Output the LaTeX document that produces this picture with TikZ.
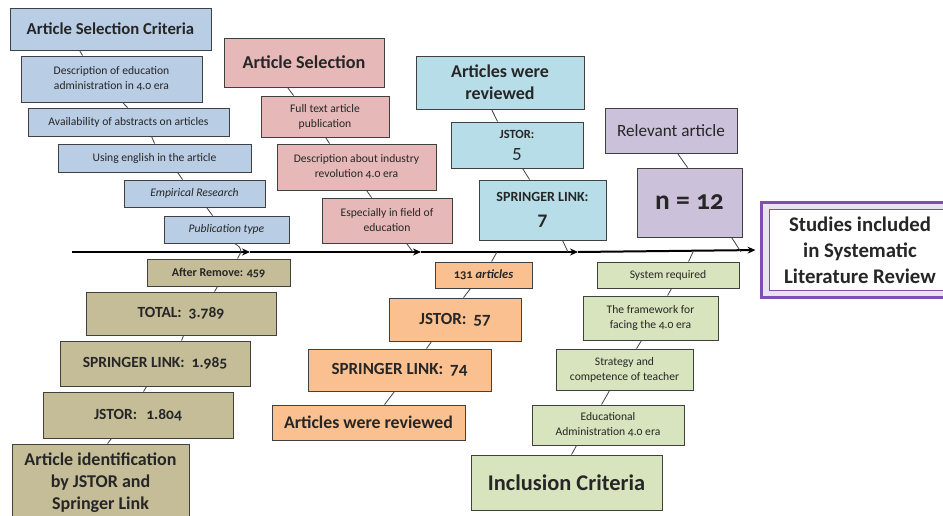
\documentclass[tikz,border=0pt]{standalone}
\usepackage{fontspec}
\setmainfont{Carlito}[Numbers=OldStyle]
\usetikzlibrary{arrows.meta}
\definecolor{cBlue}{HTML}{B9CDE5}
\definecolor{cPink}{HTML}{E6B9B8}
\definecolor{cCyan}{HTML}{B7DEE8}
\definecolor{cPurp}{HTML}{CCC1DA}
\definecolor{cTan}{HTML}{C4BD97}
\definecolor{cOrange}{HTML}{FAC090}
\definecolor{cGreen}{HTML}{D7E4BD}
\definecolor{cEdge}{HTML}{404040}
\definecolor{cText}{HTML}{262626}
\definecolor{cViolet}{HTML}{7F4FB0}
\newcommand\fz[2]{\fontsize{#1}{#2}\selectfont}
\begin{document}
\begin{tikzpicture}[x=1pt,y=-1pt,
  box/.style={draw=cEdge, line width=0.9pt, inner sep=1pt, align=center, text=cText},
  small/.style={font=\fz{11.6}{15}},
  bone/.style={draw=cEdge, line width=0.8pt},
  spine/.style={draw=black, line width=2pt, -{Stealth[length=8pt,width=7pt]}}]
\useasboundingbox (0,0) rectangle (943,516);
\clip (0,0) rectangle (943,516);
% ---------- blue ----------
\node[box, fill=cBlue, minimum width=201pt, minimum height=42pt, font=\fz{16.7}{19}\bfseries] (bt) at (110.5,29) {Article Selection Criteria};
\node[box, fill=cBlue, small, minimum width=181pt, minimum height=46pt] (b1) at (111.5,79) {Description of education\\administration in 4.0 era};
\node[box, fill=cBlue, small, minimum width=201pt, minimum height=28pt] (b2) at (128.5,122) {Availability of abstracts on articles};
\node[box, fill=cBlue, small, minimum width=193pt, minimum height=28pt] (b3) at (154.5,158) {Using english in the article};
\node[box, fill=cBlue, small, minimum width=141pt, minimum height=27pt] (b4) at (194.5,193.5) {\itshape Empirical Research};
\node[box, fill=cBlue, small, minimum width=125pt, minimum height=27pt] (b5) at (226.5,229.5) {\itshape Publication type};
% ---------- pink ----------
\node[box, fill=cPink, minimum width=160pt, minimum height=49pt, font=\fz{18.2}{21}\bfseries] (rt) at (304,62.5) {Article Selection};
\node[box, fill=cPink, small, minimum width=128pt, minimum height=41pt] (r1) at (325,116.5) {Full text article\\publication};
\node[box, fill=cPink, small, minimum width=159pt, minimum height=46pt] (r2) at (356.5,167) {Description about industry\\revolution 4.0 era};
\node[box, fill=cPink, small, minimum width=130pt, minimum height=45pt] (r3) at (387,220.5) {Especially in field of\\education};
% ---------- cyan ----------
\node[box, fill=cCyan, minimum width=168pt, minimum height=53pt, font=\fz{18}{22}\bfseries] (ct) at (500,82.5) {Articles were\\reviewed};
\node[box, fill=cCyan, minimum width=132pt, minimum height=46pt, font=\fz{12.5}{20}] (c1) at (517,145) {\bfseries JSTOR:\\{\fz{19}{20}5}};
\node[box, fill=cCyan, minimum width=127pt, minimum height=60pt, font=\fz{14}{24}\bfseries] (c2) at (542.5,210) {SPRINGER LINK:\\{\fz{19.5}{24}7}};
% ---------- purple ----------
\node[box, fill=cPurp, minimum width=132pt, minimum height=45pt, font=\fz{17.2}{19}] (pt) at (671,130.5) {Relevant article};
\node[box, fill=cPurp, minimum width=105pt, minimum height=69pt, font=\fz{27.5}{30}\bfseries] (p1) at (689.5,202.5) {n = 12};
% ---------- studies ----------
\node[draw=cViolet, line width=3pt, fill=cPurp!45, minimum width=195pt, minimum height=94pt] (studiesout) at (858.5,250) {};
\node[draw=cViolet, line width=1pt, fill=white, minimum width=181pt, minimum height=81pt, align=center, text=cText, font=\fz{20.8}{26}\bfseries] (studies) at (860,250) {Studies included\\in Systematic\\Literature Review};
% ---------- tan ----------
\node[box, fill=cTan, minimum width=143pt, minimum height=27pt, font=\fz{12}{14}\bfseries] (t1) at (218.5,272.5) {After Remove: 459};
\node[box, fill=cTan, minimum width=190pt, minimum height=43pt, font=\fz{15.5}{18}\bfseries] (t2) at (181,313.5) {TOTAL:\hspace{0.45em}3.789};
\node[box, fill=cTan, minimum width=190pt, minimum height=45pt, font=\fz{15.5}{18}\bfseries] (t3) at (155,363.5) {SPRINGER LINK:\hspace{0.45em}1.985};
\node[box, fill=cTan, minimum width=190pt, minimum height=46pt, font=\fz{15.5}{18}\bfseries] (t4) at (138,415) {JSTOR:\hspace{0.6em}1.804};
\node[box, fill=cTan, minimum width=177pt, minimum height=78pt, font=\fz{18}{22}\bfseries] (t5) at (100.5,483) {Article identification\\by JSTOR and\\Springer Link};
% ---------- orange ----------
\node[box, fill=cOrange, minimum width=97pt, minimum height=26pt, font=\fz{12.5}{14}\bfseries] (o1) at (483.5,275) {131 \textit{articles}};
\node[box, fill=cOrange, minimum width=132pt, minimum height=43pt, font=\fz{17}{19}\bfseries] (o2) at (455,319.5) {JSTOR:\hspace{0.4em}57};
\node[box, fill=cOrange, minimum width=183pt, minimum height=42pt, font=\fz{17}{19}\bfseries] (o3) at (399.5,370) {SPRINGER LINK:\hspace{0.4em}74};
\node[box, fill=cOrange, minimum width=193pt, minimum height=35pt, font=\fz{17.8}{20}\bfseries] (o4) at (368.5,422.5) {Articles were reviewed};
% ---------- green ----------
\node[box, fill=cGreen, small, minimum width=142pt, minimum height=26pt] (g1) at (668,275) {System required};
\node[box, fill=cGreen, small, minimum width=135pt, minimum height=44pt] (g2) at (650.5,318) {The framework for\\facing the 4.0 era};
\node[box, fill=cGreen, small, minimum width=137pt, minimum height=41pt] (g3) at (624.5,369.5) {Strategy and\\competence of teacher};
\node[box, fill=cGreen, small, minimum width=152pt, minimum height=40pt] (g4) at (608,425) {Educational\\Administration 4.0 era};
\node[box, fill=cGreen, minimum width=191pt, minimum height=55pt, font=\fz{22.4}{25}\bfseries] (g5) at (566.5,482.5) {Inclusion Criteria};
% ---------- spine ----------
\coordinate (s0) at (72,252);
\coordinate (a1) at (250,252);
\coordinate (a2) at (421,252);
\coordinate (a3) at (578,252);
\coordinate (j1) at (241,252);
\coordinate (j2) at (413,252);
\coordinate (j3) at (497,252);
\coordinate (j4) at (568,252);
\coordinate (j5) at (693,252);
\coordinate (j6) at (741,252);
\draw[spine] (s0) -- (a1);
\draw[spine] (a1) -- (a2);
\draw[spine] (a2) -- (a3);
\draw[spine, shorten >=4pt] (a3) -- (studiesout.west);
% ---------- bones ----------
\draw[bone] ([xshift=70pt]bt.south west) -- ([xshift=62pt]b1.north west);
\draw[bone] ([xshift=102pt]b1.south west) -- ([xshift=100pt]b2.north west);
\draw[bone] ([xshift=124pt]b2.south west) -- ([xshift=97pt]b3.north west);
\draw[bone] ([xshift=120pt]b3.south west) -- ([xshift=59pt]b4.north west);
\draw[bone] ([xshift=83pt]b4.south west) -- ([xshift=49pt]b5.north west);
\draw[bone] ([xshift=71pt]b5.south west) .. controls (240,247) .. (j1);
\draw[bone] (j1) -- ([xshift=91pt]t1.north west);
\draw[bone] ([xshift=71pt]t1.south west) -- ([xshift=129pt]t2.north west);
\draw[bone] ([xshift=98pt]t2.south west) -- ([xshift=122pt]t3.north west);
\draw[bone] ([xshift=87pt]t3.south west) -- ([xshift=101pt]t4.north west);
\draw[bone] ([xshift=69pt]t4.south west) -- ([xshift=96pt]t5.north west);
\draw[bone] ([xshift=64pt]rt.south west) -- ([xshift=33pt]r1.north west);
\draw[bone] ([xshift=65pt]r1.south west) -- ([xshift=53pt]r2.north west);
\draw[bone] ([xshift=90pt]r2.south west) -- ([xshift=50pt]r3.north west);
\draw[bone] ([xshift=85pt]r3.south west) -- (j2);
\draw[bone] (j3) -- ([xshift=57pt]o1.north west);
\draw[bone] ([xshift=36pt]o1.south west) -- ([xshift=75pt]o2.north west);
\draw[bone] ([xshift=43pt]o2.south west) -- ([xshift=119pt]o3.north west);
\draw[bone] ([xshift=87pt]o3.south west) -- ([xshift=113pt]o4.north west);
\draw[bone] ([xshift=76pt]ct.south west) -- ([xshift=47pt]c1.north west);
\draw[bone] ([xshift=72pt]c1.south west) -- ([xshift=51pt]c2.north west);
\draw[bone] ([xshift=84pt]c2.south west) -- (j4);
\draw[bone] (j5) -- ([xshift=92pt]g1.north west);
\draw[bone] ([xshift=75pt]g1.south west) -- ([xshift=85pt]g2.north west);
\draw[bone] ([xshift=59pt]g2.south west) -- ([xshift=81pt]g3.north west);
\draw[bone] ([xshift=54pt]g3.south west) -- ([xshift=70pt]g4.north west);
\draw[bone] ([xshift=45pt]g4.south west) -- ([xshift=101pt]g5.north west);
\draw[bone] ([xshift=73pt]pt.south west) -- ([xshift=51pt]p1.north west);
\draw[bone] ([xshift=95pt]p1.south west) -- (j6);
\end{tikzpicture}
\end{document}
